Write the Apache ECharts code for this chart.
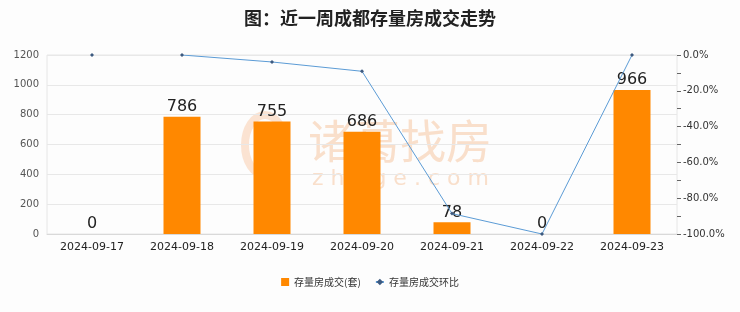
<!DOCTYPE html>
<html><head><meta charset="utf-8">
<script src="https://cdn.jsdelivr.net/npm/echarts@6/dist/echarts.min.js"></script>
<style>html,body{margin:0;padding:0;background:#fdfdfd}#c{width:740px;height:312px}</style>
</head><body><div id="c"></div>
<script>
var categories = ['2024-09-17','2024-09-18','2024-09-19','2024-09-20','2024-09-21','2024-09-22','2024-09-23'];
var dealCounts = [0, 786, 755, 686, 78, 0, 966];
var momFirst = [0, null, null, null, null, null, null];
var momRest = [null, 0, -3.9, -9.1, -88.6, -100, 0];
var leftTicks = {min: 0, max: 1200, interval: 200};
var rightTicks = {min: -100, max: 0, interval: 20};

var chart = echarts.init(document.getElementById('c'), null, {renderer: 'canvas'});
var font = '"Noto Sans CJK SC", "Noto Sans", sans-serif';
var lineColor = '#5b9bd5';
var lineStyle = {color: lineColor, width: 1};
var itemStyle = {color: '#3d5a80'};
chart.setOption({
  backgroundColor: '#fdfdfd',
  animation: false,
  title: {text: '图：近一周成都存量房成交走势', left: 'center', top: 4,
    textStyle: {fontSize: 18, fontWeight: 'bold', color: '#222', fontFamily: font}},
  graphic: [
    {type: 'text', z: 0, left: 308, top: 118, style: {text: '诸葛找房', fontSize: 46, fill: '#f9dfcb', fontFamily: font}},
    {type: 'text', z: 0, left: 312, top: 168, style: {text: 'z h u g e . c o m', fontSize: 22, fill: '#f9dfcb', fontFamily: '"DejaVu Sans", sans-serif'}},
    {type: 'ellipse', z: 0, shape: {cx: 265, cy: 145, rx: 20, ry: 30}, style: {fill: 'none', stroke: '#fbe3d2', lineWidth: 8}}
  ],
  legend: {bottom: 20, left: 'center', itemWidth: 8, itemHeight: 8, itemGap: 14,
    textStyle: {fontSize: 10, color: '#333', fontFamily: font},
    data: [{name: '存量房成交(套)', icon: 'rect'}, {name: '存量房成交环比'}]},
  grid: {left: 47, right: 63, top: 55, bottom: 78, show: true, borderColor: '#e6e6e6', borderWidth: 1},
  xAxis: {type: 'category', data: categories,
    axisLine: {lineStyle: {color: '#d9d9d9'}}, axisTick: {show: false},
    axisLabel: {interval: 0, fontSize: 11, color: '#222', margin: 8, fontFamily: '"DejaVu Sans", sans-serif'}},
  yAxis: [
    {type: 'value', min: leftTicks.min, max: leftTicks.max, interval: leftTicks.interval,
      axisLine: {show: false}, axisTick: {show: false},
      splitLine: {lineStyle: {color: '#e8e8e8'}},
      axisLabel: {fontSize: 10, color: '#555', margin: 8, fontFamily: '"DejaVu Sans", sans-serif',
        formatter: function (v) { return String(v); }}},
    {type: 'value', position: 'right', min: rightTicks.min, max: rightTicks.max, interval: rightTicks.interval,
      axisLine: {show: false},
      axisTick: {show: true, length: 4, inside: false, lineStyle: {color: '#666'}},
      minorTick: {show: true, splitNumber: 2, length: 4, lineStyle: {color: '#666'}},
      splitLine: {show: false},
      axisLabel: {fontSize: 10, color: '#333', margin: 6, fontFamily: '"DejaVu Sans", sans-serif',
        formatter: function (v) { return v.toFixed(1) + '%'; }}}
  ],
  series: [
    {name: '存量房成交(套)', type: 'bar', data: dealCounts, barWidth: 37, z: 2,
      itemStyle: {color: '#ff8800'},
      label: {show: true, position: 'top', fontSize: 16, color: '#222', distance: 2, fontFamily: '"DejaVu Sans", sans-serif'}},
    {name: '存量房成交环比', type: 'line', yAxisIndex: 1, data: momFirst, z: 3,
      symbol: 'diamond', symbolSize: 4, lineStyle: lineStyle, itemStyle: itemStyle},
    {name: '存量房成交环比', type: 'line', yAxisIndex: 1, data: momRest, z: 3,
      symbol: 'diamond', symbolSize: 4, lineStyle: lineStyle, itemStyle: itemStyle}
  ]
});
</script></body></html>
